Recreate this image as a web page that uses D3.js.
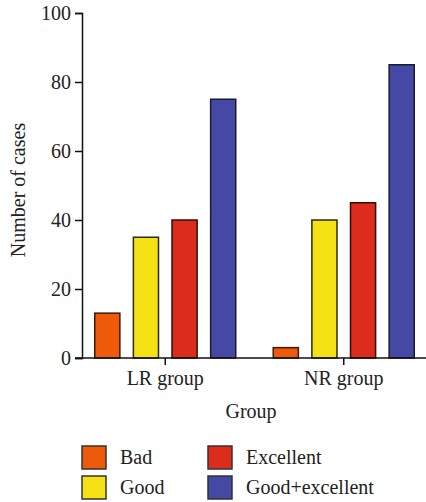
<!DOCTYPE html>
<html><head><meta charset="utf-8">
<script src="https://cdn.jsdelivr.net/npm/d3@7"></script>
<style>body{margin:0;background:#fff} svg text{font-family:"Liberation Serif","Times New Roman",Times,"DejaVu Serif",serif !important;}</style>
</head><body>
<svg id="c" width="426" height="502"></svg>
<script>
const groups = ["LR group", "NR group"];
const seriesNames = ["Bad", "Good", "Excellent", "Good+excellent"];
const bad = [13, 3];
const good = [35, 40];
const excellent = [40, 45];
const goodExcellent = [75, 85];
const yTicks = [0, 20, 40, 60, 80, 100];
const colors = ["#EE5A0A", "#F5E214", "#DC2D1C", "#4549A5"];
const strokes = ["#3a1a08", "#2a2a10", "#3a0a08", "#1a1a30"];

const values = [bad, good, excellent, goodExcellent];
const svg = d3.select("#c");
const plotLeft = 82, plotTop = 13, plotBottom = 358;
const fs = 20;

const y = d3.scaleLinear().domain([0, 100]).range([plotBottom, plotTop]);
const x0 = d3.scaleBand().domain(groups).range([76, 433]).paddingInner(0).paddingOuter(0);
const x1 = d3.scaleBand().domain(seriesNames).range([0, 141]).paddingInner(0.35).paddingOuter(0);

// bars
groups.forEach((g, gi) => {
  const gx = x0(g) + x0.bandwidth() / 2 - 70.5;
  seriesNames.forEach((s, si) => {
    svg.append("rect")
      .attr("x", gx + x1(s))
      .attr("y", y(values[si][gi]))
      .attr("width", x1.bandwidth())
      .attr("height", y(0) - y(values[si][gi]))
      .attr("fill", colors[si])
      .attr("stroke", strokes[si])
      .attr("stroke-width", 1.5);
  });
});

// y axis
const yAxis = svg.append("g").attr("transform", `translate(${plotLeft},0)`)
  .call(d3.axisLeft(y).tickValues(yTicks).tickSize(7).tickPadding(4));
yAxis.select(".domain").attr("stroke", "#111").attr("stroke-width", 1.5);
yAxis.selectAll(".tick line").attr("stroke", "#111").attr("stroke-width", 1.5);
yAxis.selectAll("text").attr("font-size", fs).attr("fill", "#222");

// x axis
const xAxis = svg.append("g").attr("transform", `translate(0,${plotBottom})`)
  .call(d3.axisBottom(x0).tickSize(7).tickPadding(6).tickSizeOuter(0));
xAxis.select(".domain").attr("d", `M75,0H426`).attr("stroke", "#111").attr("stroke-width", 1.5);
xAxis.selectAll(".tick line").attr("stroke", "#111").attr("stroke-width", 1.5);
xAxis.selectAll("text").attr("font-size", fs).attr("fill", "#222");

// axis titles
svg.append("text").attr("transform", "translate(25,190) rotate(-90)")
  .attr("text-anchor", "middle").attr("font-size", fs).attr("fill", "#222")
  .text("Number of cases");
svg.append("text").attr("x", 251).attr("y", 418)
  .attr("text-anchor", "middle").attr("font-size", fs).attr("fill", "#222")
  .text("Group");

// legend
const legPos = [[82, 446], [82, 476], [208, 446], [208, 476]];
seriesNames.forEach((s, i) => {
  const [lx, ly] = legPos[i];
  svg.append("rect").attr("x", lx).attr("y", ly).attr("width", 24).attr("height", 23)
    .attr("fill", colors[i]).attr("stroke", "#333").attr("stroke-width", 1.5);
  svg.append("text").attr("x", lx + 38).attr("y", ly + 18)
    .attr("font-size", fs).attr("fill", "#222").text(s);
});
</script>
</body></html>
